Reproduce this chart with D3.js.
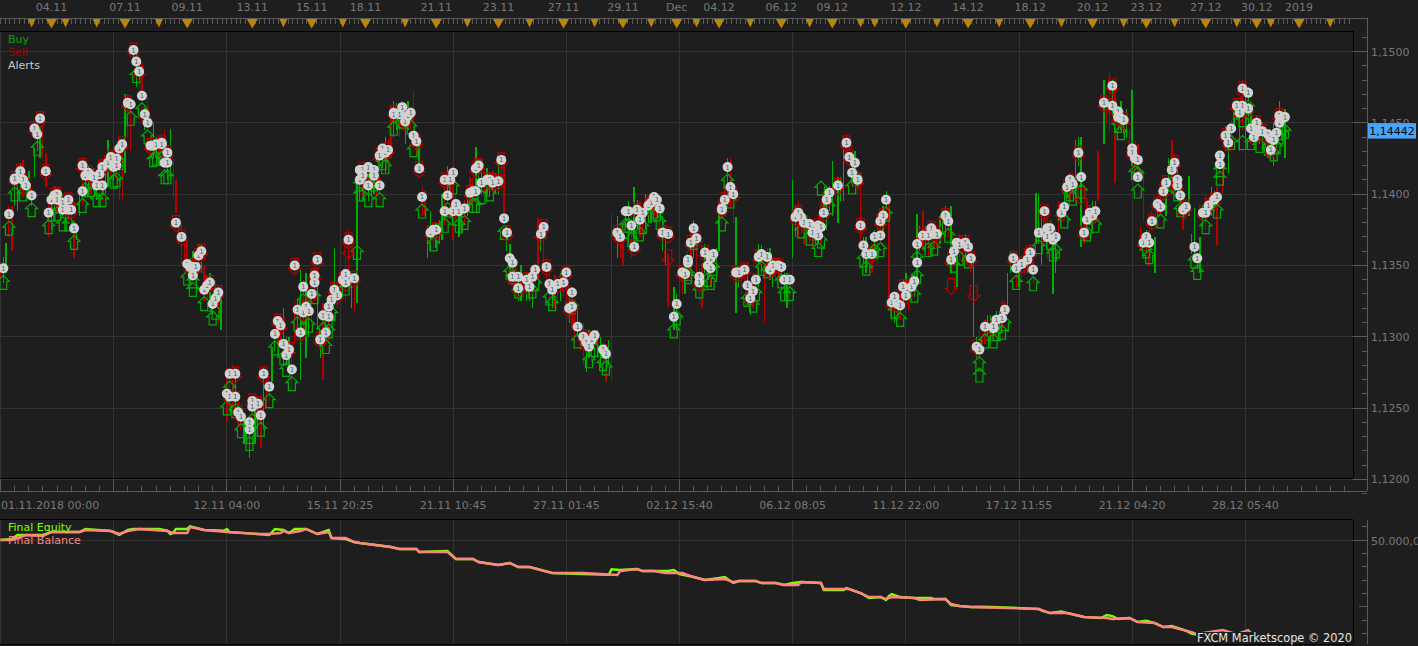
<!DOCTYPE html>
<html>
<head>
<meta charset="utf-8">
<script src="https://cdn.jsdelivr.net/npm/d3@7"></script>
<style>
html,body{margin:0;padding:0;background:#1e1e1e;overflow:hidden}
svg{display:block}
text{font-family:"DejaVu Sans",sans-serif;font-size:11px}
</style>
</head>
<body>
<svg id="chart" width="1418" height="646"></svg>
<script>
// Prices are in units of 0.0001 (11500 = 1,1500); time is a bar number.
const candleLows = [
11340,11345,11360,11388,11398,11398,11412,11425,11405,11375,11386,11383,11382,11355,11385,11398,11400,11396,11395,11405,
11410,11396,11415,11430,11475,11465,11445,11425,11420,11420,11412,11387,11351,11352,11340,11345,11325,11325,11320,11305,
11240,11250,11238,11225,11215,11225,11222,11250,11268,11285,11280,11275,11295,11270,11285,11310,11305,11270,11295,11322,
11330,11325,11320,11324,11395,11395,11400,11395,11415,11425,11445,11445,11445,11445,11418,11385,11360,11362,11368,11395,
11368,11370,11378,11390,11400,11400,11400,11402,11400,11382,11345,11330,11325,11325,11320,11340,11345,11325,11320,11325,
11325,11305,11300,11280,11285,11285,11280,11268,11270,11355,11350,11365,11362,11370,11375,11380,11380,11360,11321,11305,
11325,11330,11345,11345,11320,11340,11345,11360,11385,11390,11317,11330,11335,11320,11335,11310,11340,11340,11335,11320,
11355,11370,11365,11365,11365,11365,11375,11385,11380,11395,11420,11410,11365,11345,11345,11350,11370,11328,11310,11312,
11325,11325,11335,11360,11355,11362,11365,11370,11345,11335,11352,11352,11300,11282,11295,11298,11302,11305,11315,11345,
11335,11345,11350,11365,11350,11355,11330,11370,11385,11395,11395,11363,11370,11375,11395,11435,11445,11408,11445,11440,
11420,11410,11382,11350,11345,11385,11385,11405,11395,11375,11385,11352,11345,11375,11385,11364,11400,11415,11445,11430,
11440,11440,11435,11430,11425,11420,11440,11425];
const candleHighs = [
11352,11366,11392,11418,11424,11416,11432,11448,11429,11402,11404,11400,11398,11382,11405,11422,11418,11412,11425,11438,
11430,11440,11470,11468,11502,11492,11470,11450,11440,11445,11446,11410,11380,11368,11360,11365,11350,11345,11340,11330,
11278,11280,11262,11245,11240,11256,11258,11274,11293,11310,11320,11300,11325,11347,11345,11340,11345,11324,11330,11362,
11345,11355,11345,11412,11420,11420,11420,11425,11440,11462,11464,11465,11465,11472,11440,11402,11388,11380,11400,11420,
11420,11395,11396,11412,11433,11425,11418,11416,11425,11425,11365,11350,11350,11345,11350,11383,11378,11350,11343,11345,
11350,11335,11320,11310,11305,11300,11300,11295,11387,11385,11380,11395,11405,11395,11400,11400,11395,11385,11358,11335,
11358,11355,11375,11372,11352,11362,11362,11395,11405,11425,11384,11352,11352,11345,11365,11352,11362,11355,11352,11345,
11410,11395,11385,11385,11380,11385,11400,11423,11412,11440,11440,11430,11412,11370,11365,11380,11392,11398,11332,11330,
11345,11345,11386,11388,11380,11380,11385,11392,11392,11360,11370,11370,11355,11307,11312,11315,11318,11325,11345,11360,
11355,11362,11365,11401,11385,11385,11368,11395,11408,11415,11438,11440,11395,11395,11430,11480,11485,11478,11465,11460,
11473,11435,11417,11375,11370,11405,11408,11438,11420,11400,11413,11390,11370,11400,11405,11405,11430,11445,11465,11462,
11477,11465,11455,11450,11445,11450,11465,11460];
const candleDirections =
"rgrgrggg" + "rgrgrrggrgrg" + "grgrgrrg" + "rrgrrrggrgrgrrrg" + "ggrrgrggrggr" + "grrgrrggr" + "ggrgrgrgrgrggggrgrrgg" +
"grgrgrgggrrrrgrrgrgggrrgrggrggrgrgrgrrrgrgrrgrgrgrgrrggrrrgrggggrgrgrrgrgrgrgrrrggggrrgrrggrgrgrrggrgrgrggrgrgrrgggrrrgrgrgrgggrgrrg";

// Bars in between, inside the busy stretches
const innerBars = [
1,3,5,7,9,11,13,15,17,19,21,23,25,27,29,31,33,35,37,39,41,43,45,47,49,51,53,55,57,59,61,63,65,67,69,71,73,75,77,
81,83,85,87,89,91,93,95,97,99,101,103,105,107,109,111,113,115,117,119,121,123,125,127,129,131,133,135,137,139,141,143,145,147,149,151,153,155,157,159,
161,163,165,167,169,171,173,175,177,179,181,183,185,187,189,191,193,195,197,199,201,203,205,207,209,211,213,215,
219,221,223,225,227,229,231,233,235,239,241,243,245,247,249,251,253,255,257,259,261,263,265,267,269,271,273,275,277,279,
281,283,285,287,289,291,293,295,297,299,301,303,305,307,309,311,313,315,317,319,321,323,325,327,329,331,333,335,337,339,341,343,345,347,349,351,353,355,357,359,
361,363,365,367,369,371,373,375,377,379,381,383,385,387,391,393,395,397,399,401,403,405,407,409,411,413,415,417,419,421,423,425,427,429,431,433,435,437,439,441,443,445,447,449,451,453];
const innerLows = [
11338,11370,11392,11402,11396,11392,11430,11425,11370,11388,11385,11380,11372,11368,11392,11400,11402,11398,11400,11412,11410,11396,11440,11490,11470,11445,11425,11422,11425,11410,11398,11365,11350,11342,11338,11345,11325,11315,11310,
11262,11245,11235,11225,11232,11230,11235,11255,11290,11295,11280,11265,11305,11305,11300,11325,11285,11295,11315,11320,11328,11345,11318,11395,11400,11398,11395,11418,11420,11440,11440,11435,11445,11425,11385,11355,11362,11365,11378,11398,
11382,11372,11385,11392,11408,11400,11398,11400,11405,11360,11340,11325,11328,11325,11338,11360,11340,11320,11325,11328,11310,11295,11290,11275,11282,11285,11275,11280,
11355,11375,11355,11375,11372,11380,11385,11378,11350,11305,11330,11340,11355,11322,11345,11335,11340,11378,11395,11380,11335,11335,11315,11325,11345,11345,11335,11340,11325,11322,
11370,11372,11368,11362,11365,11375,11388,11395,11395,11425,11405,11400,11352,11345,11358,11365,11385,11312,11315,11325,11318,11328,11360,11360,11365,11362,11372,11370,11350,11355,11355,11345,11285,11295,11300,11298,11305,11310,11345,11335,
11342,11345,11338,11365,11378,11365,11345,11380,11398,11400,11420,11365,11378,11380,11450,11455,11445,11442,11430,11415,11360,11358,11375,11385,11395,11405,11410,11392,11382,11358,11345,11378,11385,11388,11412,11430,11440,11452,11445,11445,11432,11435,11432,11425,11432,11440];
const innerHighs = [
11356,11392,11414,11422,11416,11404,11452,11458,11395,11406,11402,11400,11394,11380,11425,11420,11418,11418,11424,11430,11428,11438,11470,11503,11490,11462,11440,11440,11442,11432,11425,11380,11365,11355,11358,11365,11342,11330,11335,
11278,11275,11250,11242,11258,11258,11278,11270,11305,11316,11300,11285,11325,11340,11325,11350,11305,11320,11330,11340,11345,11375,11345,11420,11422,11418,11418,11435,11438,11465,11460,11455,11462,11442,11405,11378,11380,11382,11412,11415,
11400,11392,11400,11412,11425,11415,11415,11415,11430,11378,11358,11345,11345,11342,11352,11378,11355,11340,11342,11345,11328,11325,11308,11302,11302,11305,11296,11298,
11378,11392,11385,11396,11392,11398,11402,11395,11378,11330,11350,11360,11382,11348,11365,11358,11362,11396,11425,11405,11350,11352,11332,11345,11364,11362,11355,11356,11345,11345,
11392,11390,11385,11378,11382,11395,11406,11410,11412,11442,11430,11416,11370,11362,11375,11385,11402,11330,11330,11340,11340,11345,11378,11378,11382,11378,11390,11386,11366,11372,11372,11362,11300,11310,11315,11312,11318,11325,11360,11354,
11356,11360,11352,11400,11392,11382,11375,11392,11410,11415,11440,11380,11392,11395,11470,11480,11462,11458,11445,11430,11378,11375,11388,11398,11408,11425,11428,11404,11396,11372,11362,11392,11398,11402,11430,11448,11452,11466,11480,11475,11448,11450,11448,11445,11448,11460];
const innerDirections =
"grggrggrrgrgrgrggrgrrrrgrgrgrgrgrgrgrgr" + "rgrgrggrgrgrgrgrgrgrgrrgrgrgrgrgrrrgrgr" + "rrggrgrggrgrgrgrgrgrrgrrgrg" +
"rgrgrgrgrrggrrgrgrgrgrgrgrgrgr" + "grgrgrgrgrgrgrgrgrggrgrgggrrgrgrgrgrgggr" + "grrgrgrggrgrgrrgrgggrrrgrgrgrgrgrgrgrgrgrgrg";

const alertBars = [
1,3,5,5,7,8,9,11,12,13,14,16,17,18,19,20,20,22,22,24,24,25,26,29,29,30,31,32,33,34,35,36,36,38,39,41,40,41,42,43,
45,46,47,48,49,50,51,52,53,54,55,57,57,59,58,59,62,64,70,71,66,67,68,69,68,72,73,74,77,76,75,
81,83,80,81,83,84,85,89,89,91,92,88,88,95,93,97,98,99,100,102,101,103,105,107,108,109,106,104,107,110,111,111,112,114,116,113,115,116,117,118,119,121,122,122,125,123,
127,127,128,128,130,130,132,132,134,134,135,136,137,139,139,141,142,144,145,143,146,147,148,149,157,159,158,157,152,153,154,
160,160,161,162,164,167,166,168,168,169,170,172,173,174,176,177,178,179,180,181,181,183,183,186,188,187,189,191,192,193,194,195,197,199,200,202,201,202,204,206,207,209,210,208,213,214,
218,219,221,222,225,227,229,230,231,232,223,226,224,233,234,236,
239,238,241,242,243,243,244,246,245,247,247,249,252,251,250,251,255,255,256,258,259,257,260,261,263,264,266,265,267,268,269,271,272,273,275,276,277,279,
281,282,283,284,286,287,289,290,289,291,292,293,296,299,300,302,301,303,304,305,306,308,309,311,311,312,313,
315,316,317,318,319,322,323,320,324,324,326,328,329,330,331,334,335,336,337,338,339,341,342,343,345,346,348,351,352,351,354,355,
358,359,361,363,364,365,367,369,370,371,370,372,373,375,376,377,378,379,381,382,383,384,385,386,387,
390,393,393,395,395,396,397,400,400,401,402,402,404,405,406,407,409,410,411,412,414,415,416,416,417,418,419,422,423,
425,426,427,429,430,431,431,434,433,435,437,439,438,439,441,441,444,442,443,445,446,448,449,450,451,449,452,453,454,452];
const alertPrices = [
11348,11386,11410,11411,11416,11410,11406,11399,11446,11442,11453,11416,11387,11396,11399,11400,11396,11394,11389,11396,11389,11389,11376,11402,11420,11413,11415,11413,11412,11406,11414,11419,11406,11422,11426,11425,11419,11420,11432,11435,
11464,11463,11501,11493,11486,11469,11456,11450,11434,11434,11435,11436,11435,11429,11422,11422,11380,11370,11357,11360,11351,11349,11349,11349,11343,11333,11336,11338,11331,11327,11323,
11274,11274,11260,11258,11258,11247,11244,11255,11251,11253,11245,11240,11235,11265,11274,11302,11311,11308,11295,11291,11287,11277,11319,11317,11321,11318,11303,11350,11335,11330,11338,11343,11354,11315,11314,11298,11303,11321,11326,11333,11329,11340,11338,11344,11341,11368,
11410,11417,11417,11413,11406,11419,11417,11413,11406,11427,11432,11429,11431,11457,11456,11456,11461,11455,11457,11451,11441,11437,11418,11398,11410,11410,11399,11388,11373,11375,11375,
11415,11388,11393,11388,11390,11402,11401,11402,11418,11420,11408,11410,11410,11408,11409,11424,11383,11373,11355,11352,11342,11342,11334,11340,11342,11335,11347,11372,11377,11349,11337,11333,11337,11338,11345,11331,11320,11321,11307,11300,11296,11298,11301,11293,11291,11288,
11373,11370,11388,11388,11389,11387,11392,11394,11398,11396,11378,11382,11363,11390,11373,11372,
11323,11314,11345,11344,11352,11354,11366,11369,11376,11342,11338,11359,11358,11355,11350,11348,11390,11389,11396,11405,11400,11419,11345,11345,11347,11336,11332,11327,11340,11356,11358,11356,11347,11350,11350,11349,11340,11340,
11384,11387,11384,11380,11379,11373,11378,11377,11371,11387,11396,11401,11406,11436,11426,11422,11415,11410,11378,11364,11358,11358,11370,11371,11381,11385,11396,
11324,11328,11323,11322,11335,11335,11339,11329,11365,11352,11371,11371,11376,11372,11372,11385,11381,11354,11360,11366,11365,11366,11363,11355,11293,11291,11307,11306,11312,11307,11313,11319,
11355,11348,11351,11354,11359,11347,11373,11388,11376,11376,11370,11368,11370,11387,11391,11405,11410,11407,11429,11412,11373,11382,11387,11385,11388,
11464,11462,11476,11458,11454,11453,11452,11432,11429,11425,11424,11412,11366,11370,11366,11381,11393,11391,11402,11408,11417,11422,11410,11406,11399,11389,11391,11363,11355,
11387,11387,11392,11396,11398,11421,11427,11436,11441,11446,11462,11462,11457,11474,11471,11460,11450,11446,11440,11444,11444,11442,11439,11438,11443,11431,11455,11453,11454,11450];
const alertSides =
"BBBSSBSBSBSSBBSSBSBSBSBBSBSBSBBSBSSSBBBS" + "SBSBSBSBSBBSBSBBSSSSBSBSBBSSSBB" +
"BSBSBSBSBSBBBBSBSSBSBBBSSBSSBSBSSBBSBBBSSSS" + "BSSBBSSBBBSBSBBSSBSBSBSBSSBSSBBSB" +
"SBSBBBBSBSSBSBSSSBSBBSBSSBSBSSSBBSSSBSSBSSSBBB" + "BSSBBSBSSBBBBSBS" +
"SBBSSBBSSBBSSBSBBSBSBSBSSSBBSBSBBSSSBB" + "BSSBSBSSBBSSBSSSBBSSBBSBBSS" +
"BSBSBSSBSBBSBSBSSBSBSBSBSSBBSBBB" + "BSBSSSBBSSBSBBSBSBBSBSBSS" +
"BSSSBSBSSSBBBSBBSSBSSBSBSBSSB" + "BSBSSBBBSSBSBSSBSSBSBSBSBBSSBB";

// Arrows that have no alert badge of their own
const loneBuyBars = [346,290,439,126];
const loneBuyPrices = [11283,11414,11446,11369];
const loneSellBars = [344,336,236,382,123];
const loneSellPrices = [11331,11336,11356,11399,11361];

const balanceBars = [0,4,6,9,15,18,28,30,39,42,45,49,59,61,66,67,72,80,91,95,99,100,102,106,108,112,116,117,122,125,127,138,141,147,148,158,161,167,169,176,180,183,187,195,206,218,219,225,227,231,235,241,245,249,256,259,261,267,269,274,277,282,283,290,291,300,304,307,311,313,315,323,325,334,336,339,343,367,371,377,383,391,393,399,402,408,411,414,421,423,432,437,441,443,456];
const balanceValues = [50000,50000,50150,50375,50300,50600,50600,50750,50675,50450,50675,50825,50675,50525,50525,50975,50750,50600,50450,50450,50525,50675,50525,50675,50825,50450,50600,50150,50150,49850,49775,49475,49325,49325,49100,49100,48575,48575,48350,48125,48275,47975,47975,47525,47525,47375,47675,47825,47675,47675,47525,47525,47225,47000,47075,46850,46925,46925,46775,46775,46625,46625,46850,46775,46325,46325,46025,45725,45725,45575,45725,45650,45500,45575,45200,45050,44975,44825,44525,44525,44225,44150,44075,44150,43850,43775,43475,43475,43100,42950,43250,42950,43250,42800,42500];
const equityBars = [0,4,6,15,18,28,30,39,42,45,47,56,59,60,61,62,66,67,72,79,80,81,91,95,97,100,102,104,108,112,116,117,122,125,127,138,141,147,148,158,161,167,169,176,180,183,187,195,206,215,216,219,225,227,231,236,238,240,245,249,254,256,259,261,267,269,274,277,280,283,290,291,298,299,300,304,307,311,313,314,315,318,323,329,330,334,336,339,343,345,350,355,367,368,371,375,377,383,389,391,393,395,399,402,405,408,411,414,419,421,423];
const equityValues = [50000,50075,50375,50375,50600,50600,50825,50675,50375,50750,50825,50825,50700,50450,50525,50825,50825,51025,50750,50700,50825,50600,50450,50375,50825,50750,50525,50825,50825,50450,50750,50150,50075,49850,49775,49475,49325,49325,49100,49175,48575,48575,48350,48125,48275,47975,47975,47525,47450,47400,47800,47750,47825,47675,47675,47675,47750,47450,47225,47000,47150,47225,46775,46925,46925,46775,46775,46625,46775,46850,46775,46250,46250,46400,46325,46025,45650,45725,45500,45800,45950,45725,45650,45650,45575,45575,45125,45050,44975,45000,44975,44950,44825,44700,44525,44650,44525,44225,44150,44375,44300,44075,44150,43850,43950,43775,43475,43550,43200,42975,42900];

const gridBars = [0,40,80,120,160,200,240,280,320,360,400,440];
const labelBars = [0,80,120,160,200,240,280,320,360,400,440];
const labelTexts = ["01.11.2018 00:00","12.11 04:00","15.11 20:25","21.11 10:45","27.11 01:45","02.12 15:40","06.12 08:05","11.12 22:00","17.12 11:55","21.12 04:20","28.12 05:40"];
const dayBars = [18,44,66,89,110,129,154,176,199,220,239,254,276,294,320,342,364,386,405,426,444,459];
const dayLabels = ["04.11","07.11","09.11","13.11","15.11","18.11","21.11","23.11","27.11","29.11","Dec","04.12","06.12","09.12","12.12","14.12","18.12","20.12","23.12","27.12","30.12","2019"];
const sessionBars = [11,23,34,56,100,121,143,165,187,210,230,246,265,286,304,309,331,353,375,397,415,437,449,470];
const priceTicks = [11200,11250,11300,11350,11400,11450,11500];
const lastPrice = 11444.2;

const colors = {bg:"#1e1e1e",grid:"#333333",axis:"#5a5a5a",text:"#787878",green:"#00b000",red:"#b80000",gold:"#b8860b"};
const frame = {right:1353,top:31,bottom:478,lowerTop:519.5,lowerBottom:644,axisX:1367};

const svg = d3.select("#chart");
const x = d3.scaleLinear([0,480],[0.5,1358.5]);
const y = d3.scaleLinear([11200,11500],[479.4,51.5]);
const yEquity = d3.scaleLinear([50000,45000],[540,606.7]);
const priceText = p => (p/10000).toFixed(4).replace(".",",");

svg.append("defs").selectAll("clipPath")
  .data([["upper",frame.top,frame.bottom],["lower",frame.lowerTop,frame.lowerBottom]])
  .join("clipPath").attr("id",d=>d[0])
  .append("rect").attr("x",0).attr("y",d=>d[1]).attr("width",frame.right).attr("height",d=>d[2]-d[1]);

svg.append("rect").attr("width",1418).attr("height",646).attr("fill",colors.bg);

// Grid lines of both panels
const crisp = g => g.attr("shape-rendering","crispEdges");
const grid = svg.append("g").call(crisp).attr("stroke",colors.grid);
grid.selectAll(".vu").data(gridBars).join("line").attr("class","vu").attr("x1",x).attr("x2",x).attr("y1",frame.top).attr("y2",frame.bottom);
grid.selectAll(".vl").data(gridBars).join("line").attr("class","vl").attr("x1",x).attr("x2",x).attr("y1",frame.lowerTop).attr("y2",frame.lowerBottom);
grid.selectAll(".h").data(priceTicks).join("line").attr("class","h").attr("x1",0).attr("x2",frame.right).attr("y1",y).attr("y2",y);
grid.append("line").attr("x1",0).attr("x2",frame.right).attr("y1",yEquity(50000)).attr("y2",yEquity(50000));

// Price panel
const upper = svg.append("g").attr("clip-path","url(#upper)");
const candles = candleLows.map((low,i)=>({bar:i*2,low,high:candleHighs[i],dir:candleDirections[i]||"g",w:1.5}))
  .concat(innerBars.map((bar,i)=>({bar,low:innerLows[i],high:innerHighs[i],dir:innerDirections[i]||"g",w:1})));
upper.append("g").call(crisp).selectAll("line").data(candles).join("line")
  .attr("x1",d=>x(d.bar)).attr("x2",d=>x(d.bar))
  .attr("y1",d=>y(d.high)).attr("y2",d=>y(d.low))
  .attr("stroke",d=>d.dir==="r"?colors.red:colors.green)
  .attr("stroke-width",d=>d.w);

const buyArrow = (px,py) => {
  const p = d3.path();
  p.moveTo(px,py+7); p.lineTo(px+6,py+13); p.lineTo(px+3.5,py+13); p.lineTo(px+3.5,py+21);
  p.lineTo(px-3.5,py+21); p.lineTo(px-3.5,py+13); p.lineTo(px-6,py+13); p.closePath();
  return p.toString();
};
const sellArrow = (px,py) => {
  const p = d3.path();
  p.moveTo(px-3.5,py-7); p.lineTo(px+3.5,py-7); p.lineTo(px+3.5,py+3); p.lineTo(px+6,py+3);
  p.lineTo(px,py+9); p.lineTo(px-6,py+3); p.lineTo(px-3.5,py+3); p.closePath();
  return p.toString();
};
const alerts = alertBars.map((bar,i)=>({bar,price:alertPrices[i],side:alertSides[i]||"B"}))
  .sort((a,b)=>d3.ascending(a.bar,b.bar));
const arrows = alerts.map(a=>({bar:a.bar,price:a.price,side:a.side}))
  .concat(loneBuyBars.map((bar,i)=>({bar,price:loneBuyPrices[i],side:"B"})))
  .concat(loneSellBars.map((bar,i)=>({bar,price:loneSellPrices[i],side:"S"})));
upper.append("g").selectAll("path").data(arrows).join("path")
  .attr("d",d=>(d.side==="B"?buyArrow:sellArrow)(x(d.bar),y(d.price)))
  .attr("fill","none")
  .attr("stroke",d=>d.side==="B"?colors.green:colors.red)
  .attr("stroke-width",1.2);

const badges = upper.append("g").selectAll("g").data(alerts).join("g")
  .attr("transform",d=>`translate(${x(d.bar)},${y(d.price)})`);
badges.append("circle").attr("r",5).attr("fill","#d2d2d2");
badges.append("text").attr("text-anchor","middle").attr("y",2.5)
  .attr("fill","#3f6874").style("font-size","7px").text("1");

// Equity panel
const lower = svg.append("g").attr("clip-path","url(#lower)");
const equityLine = d3.line().x(d=>x(d[0])).y(d=>yEquity(d[1]));
lower.append("path").attr("d",equityLine(equityBars.map((b,i)=>[b,equityValues[i]])))
  .attr("fill","none").attr("stroke","#7fff00").attr("stroke-width",2.4);
lower.append("path").attr("d",equityLine(balanceBars.map((b,i)=>[b,balanceValues[i]])))
  .attr("fill","none").attr("stroke","#ff8585").attr("stroke-width",2.4);

// Panel frames
const frames = svg.append("g").call(crisp).attr("stroke","#000").attr("stroke-width",1);
[[0,frame.top,frame.right,frame.top],[0,frame.bottom,frame.right,frame.bottom],
 [frame.right,frame.top,frame.right,frame.bottom],
 [0,frame.lowerTop,frame.right,frame.lowerTop],[0,frame.lowerBottom,frame.right,frame.lowerBottom],
 [frame.right,frame.lowerTop,frame.right,frame.lowerBottom]]
 .forEach(s=>frames.append("line").attr("x1",s[0]).attr("y1",s[1]).attr("x2",s[2]).attr("y2",s[3]));

// Top time ruler with event markers
const ruler = svg.append("g").call(crisp).attr("stroke",colors.axis);
ruler.append("line").attr("x1",0).attr("x2",frame.axisX).attr("y1",18.5).attr("y2",18.5);
ruler.selectAll(".t").data(d3.range(0,478,5/3)).join("line").attr("class","t")
  .attr("x1",x).attr("x2",x).attr("y1",19).attr("y2",24);
const marker = (bar,half,h)=>{const p=d3.path(),c=x(bar);p.moveTo(c-half,19);p.lineTo(c+half,19);p.lineTo(c,19+h);p.closePath();return p.toString();};
svg.append("g").selectAll("path").data(sessionBars).join("path").attr("d",b=>marker(b,4,8.5)).attr("fill",colors.gold);
svg.append("g").selectAll("path").data(dayBars).join("path").attr("d",b=>marker(b,5.5,9.5)).attr("fill",colors.gold);
svg.append("g").selectAll("text").data(dayBars).join("text")
  .attr("x",x).attr("y",11).attr("text-anchor","middle").attr("fill",colors.text).text((b,i)=>dayLabels[i]);

// Bottom time axis
const timeAxis = svg.append("g").call(crisp).attr("stroke",colors.axis);
timeAxis.append("line").attr("x1",0).attr("x2",frame.axisX).attr("y1",491.5).attr("y2",491.5);
timeAxis.selectAll(".m").data(d3.range(0,476,5)).join("line").attr("class","m")
  .attr("x1",x).attr("x2",x).attr("y1",d=>d%40===0?479:486).attr("y2",491);
svg.append("g").selectAll("text").data(labelTexts).join("text")
  .attr("x",(d,i)=>i===0?1:x(labelBars[i]))
  .attr("y",509).attr("text-anchor",(d,i)=>i===0?"start":"middle")
  .attr("fill",colors.text).text(d=>d);

// Right price axis, built on the library's axis for its labels
const priceAxis = d3.axisRight(y).tickValues(priceTicks).tickSize(0).tickPadding(4).tickFormat(priceText);
const pa = svg.append("g").attr("transform",`translate(${frame.axisX},0)`).call(priceAxis);
pa.select(".domain").remove();
pa.selectAll("text").attr("fill",colors.text).style("font-family","'DejaVu Sans',sans-serif").style("font-size","11px");
const rightTicks = svg.append("g").call(crisp).attr("stroke",colors.axis);
rightTicks.append("line").attr("x1",frame.axisX).attr("x2",frame.axisX).attr("y1",18).attr("y2",491);
rightTicks.selectAll(".r").data(d3.range(11190,11511,10)).join("line").attr("class","r")
  .attr("x1",d=>d%50===0?frame.right:frame.axisX-5).attr("x2",frame.axisX).attr("y1",y).attr("y2",y);

// Right equity axis
rightTicks.append("line").attr("x1",frame.axisX).attr("x2",frame.axisX).attr("y1",520).attr("y2",644);
rightTicks.selectAll(".e").data(d3.range(43000,51001,1000)).join("line").attr("class","e")
  .attr("x1",d=>d===50000?frame.right:(d===45000?frame.axisX-8:frame.axisX-5)).attr("x2",frame.axisX).attr("y1",yEquity).attr("y2",yEquity);
svg.append("text").attr("x",1371).attr("y",yEquity(50000)+4.5).attr("fill",colors.text).text("50.000,00");

// Current price tag
svg.append("rect").attr("x",1368).attr("y",y(lastPrice)-8).attr("width",48).attr("height",15.5).attr("fill","#45a5ff");
svg.append("text").attr("x",1392).attr("y",y(lastPrice)+4).attr("text-anchor","middle").attr("fill","#000")
  .text((lastPrice/10000).toFixed(5).replace(".",","));

// Legends
[["Buy","#00a800",43],["Sell","#a00000",56],["Alerts","#c8c8c8",69],["Final Equity","#7fff00",531],["Final Balance","#ff8585",544]]
 .forEach(l=>svg.append("text").attr("x",8).attr("y",l[2]).attr("fill",l[1]).text(l[0]));

// Platform credit
svg.append("rect").attr("x",1196).attr("y",632).attr("width",157).attr("height",11.5).attr("fill",colors.bg);
svg.append("text").attr("x",1352).attr("y",642).attr("text-anchor","end").attr("fill","#e6e6e6").style("font-size","11.4px").text("FXCM Marketscope © 2020");
</script>
</body>
</html>
